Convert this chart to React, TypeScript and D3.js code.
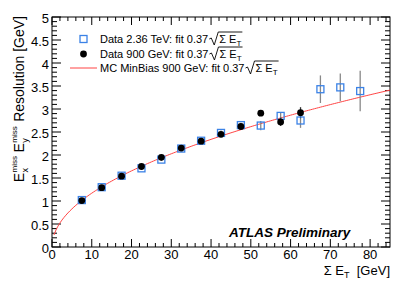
import React, { useEffect, useRef } from "react";
import * as d3 from "d3";

// bin centres of Sum E_T [GeV]
const binCentres = [7.5, 12.5, 17.5, 22.5, 27.5, 32.5, 37.5, 42.5, 47.5, 52.5, 57.5, 62.5, 67.5, 72.5, 77.5];

// Data 2.36 TeV (open blue squares)
const data236 = [1.02, 1.30, 1.55, 1.71, 1.90, 2.14, 2.31, 2.48, 2.65, 2.64, 2.85, 2.75, 3.43, 3.47, 3.39];
const err236 = [0.03, 0.03, 0.03, 0.03, 0.03, 0.04, 0.04, 0.05, 0.05, 0.1, 0.07, 0.16, 0.3, 0.3, 0.44];

// Data 900 GeV (black dots), first 12 bins only
const data900 = [1.01, 1.29, 1.54, 1.75, 1.95, 2.15, 2.30, 2.45, 2.62, 2.91, 2.72, 2.92];
const err900 = [0.02, 0.02, 0.02, 0.02, 0.03, 0.03, 0.03, 0.04, 0.04, 0.04, 0.09, 0.12];

// MC fit: resolution = k * sqrt(Sum E_T)
const fitCoef = 0.37;
const fitRange = [0.5, 85];

const xTicks = [0, 10, 20, 30, 40, 50, 60, 70, 80];
const yTicks = [0, 0.5, 1, 1.5, 2, 2.5, 3, 3.5, 4, 4.5, 5];

const legendLabels = ["Data 2.36 TeV: fit 0.37", "Data 900 GeV: fit 0.37", "MC MinBias 900 GeV: fit 0.37"];

const W = 415;
const H = 298;
const FONT = "'Liberation Sans', Arial, Helvetica, sans-serif";
const BLUE = "#3b82e6";
const RED = "#ff4545";

export default function App() {
  const svgRef = useRef<SVGSVGElement | null>(null);

  useEffect(() => {
    document.body.style.margin = "0";
    const svg = d3.select(svgRef.current);
    svg.selectAll("*").remove();

    const left = 52, right = 390, top = 17, bottom = 247;
    const x = d3.scaleLinear().domain([0, 85]).range([left, right]);
    const y = d3.scaleLinear().domain([0, 5]).range([bottom, top]);

    const g = svg.append("g").attr("font-family", FONT);

    // ticks (ROOT style, inside the frame, on all four sides)
    const ticks = g.append("g").attr("stroke", "#000").attr("stroke-width", 1);
    d3.range(0, 85.01, 2).forEach((v) => {
      const len = v % 10 === 0 ? 8 : 4;
      ticks.append("line").attr("x1", x(v)).attr("x2", x(v)).attr("y1", bottom).attr("y2", bottom - len);
      ticks.append("line").attr("x1", x(v)).attr("x2", x(v)).attr("y1", top).attr("y2", top + len);
    });
    d3.range(0, 50.01, 1).forEach((i) => {
      const v = i / 10;
      const len = i % 5 === 0 ? 9 : 5;
      ticks.append("line").attr("x1", left).attr("x2", left + len).attr("y1", y(v)).attr("y2", y(v));
      ticks.append("line").attr("x1", right).attr("x2", right - len).attr("y1", y(v)).attr("y2", y(v));
    });

    g.append("rect")
      .attr("x", left).attr("y", top)
      .attr("width", right - left).attr("height", bottom - top)
      .attr("fill", "none").attr("stroke", "#000").attr("stroke-width", 1);

    // tick labels
    g.append("g").selectAll("text").data(xTicks).join("text")
      .attr("x", (d) => x(d)).attr("y", bottom + 12)
      .attr("text-anchor", "middle").attr("font-size", 13)
      .text((d) => String(d));
    g.append("g").selectAll("text").data(yTicks).join("text")
      .attr("x", left - 3).attr("y", (d) => y(d) + 5.5)
      .attr("text-anchor", "end").attr("font-size", 13)
      .text((d) => String(d));

    // MC fit curve
    const fitPts = d3.range(fitRange[0], fitRange[1] + 0.01, 0.5).map((v) => [v, fitCoef * Math.sqrt(v)]);
    g.append("path")
      .datum(fitPts)
      .attr("d", d3.line<number[]>().x((d) => x(d[0])).y((d) => y(d[1])))
      .attr("fill", "none").attr("stroke", RED).attr("stroke-width", 1);

    // error bars
    const eb = g.append("g").attr("stroke-width", 1.3);
    binCentres.forEach((c, i) => {
      eb.append("line").attr("stroke", "#888")
        .attr("x1", x(c)).attr("x2", x(c))
        .attr("y1", y(data236[i] - err236[i])).attr("y2", y(data236[i] + err236[i]));
    });
    data900.forEach((v, i) => {
      eb.append("line").attr("stroke", "#333")
        .attr("x1", x(binCentres[i])).attr("x2", x(binCentres[i]))
        .attr("y1", y(v - err900[i])).attr("y2", y(v + err900[i]));
    });

    // markers
    g.append("g").selectAll("rect").data(data236).join("rect")
      .attr("x", (d, i) => x(binCentres[i]) - 3.5).attr("y", (d) => y(d) - 3.5)
      .attr("width", 7).attr("height", 7)
      .attr("fill", "none").attr("stroke", BLUE).attr("stroke-width", 1.3);
    g.append("g").selectAll("circle").data(data900).join("circle")
      .attr("cx", (d, i) => x(binCentres[i])).attr("cy", (d) => y(d))
      .attr("r", 3.4).attr("fill", "#000");

    // helper for text runs, returns width
    const run = (parent: any, px: number, py: number, s: string, size: number, style = "normal") => {
      const t = parent.append("text").attr("x", px).attr("y", py)
        .attr("font-size", size).attr("font-style", style).text(s);
      return (t.node() as SVGTextElement).getComputedTextLength();
    };

    // legend
    const lg = g.append("g");
    const rows = [39, 54, 68];
    lg.append("rect").attr("x", 80).attr("y", rows[0] - 3.5).attr("width", 7).attr("height", 7)
      .attr("fill", "none").attr("stroke", BLUE).attr("stroke-width", 1.3);
    lg.append("circle").attr("cx", 83.5).attr("cy", rows[1]).attr("r", 3.4).attr("fill", "#000");
    lg.append("line").attr("x1", 70).attr("x2", 97).attr("y1", rows[2]).attr("y2", rows[2])
      .attr("stroke", RED).attr("stroke-width", 1);
    legendLabels.forEach((lab, i) => {
      const by = rows[i] + 4;
      let cx = 100;
      cx += run(lg, cx, by, lab, 11);
      const sx = cx + 1;
      // radical sign
      lg.append("path")
        .attr("d", `M${sx},${by - 4} L${sx + 2},${by - 5} L${sx + 5},${by + 2} L${sx + 9},${by - 11}`)
        .attr("fill", "none").attr("stroke", "#000").attr("stroke-width", 0.9);
      let tx = sx + 10;
      tx += run(lg, tx, by, "Σ E", 11);
      tx += run(lg, tx, by + 3, "T", 8);
      lg.append("line").attr("x1", sx + 9).attr("x2", tx + 1).attr("y1", by - 11).attr("y2", by - 11)
        .attr("stroke", "#000").attr("stroke-width", 0.9);
    });

    // x title
    const xt = g.append("g");
    let xx = 0;
    xx += run(xt, xx, 0, "Σ E", 13);
    xx += run(xt, xx, 3, "T", 9);
    xx += run(xt, xx, 0, "\u00a0\u00a0[GeV]", 13);
    xt.attr("transform", `translate(${right - xx},275)`);

    // y title
    const yt = g.append("g");
    let yy = 0;
    const piece = (sub: string) => {
      yy += run(yt, yy, 0, "E", 14);
      const w1 = run(yt, yy + 0.5, -7, "miss", 8);
      const w2 = run(yt, yy + 0.5, 4, sub, 9);
      yy += Math.max(w1, w2) + 1;
    };
    piece("x");
    yy += 3;
    piece("y");
    yy += run(yt, yy, 0, "\u00a0Resolution [GeV]", 14);
    yt.attr("transform", `translate(24,${16 + yy}) rotate(-90)`);

    // ATLAS label
    g.append("text").attr("x", 229).attr("y", 237)
      .attr("font-size", 13.5).attr("font-weight", "bold").attr("font-style", "italic")
      .text("ATLAS Preliminary");
  }, []);

  return <svg ref={svgRef} width={W} height={H} style={{ display: "block", background: "#fff" }} />;
}
